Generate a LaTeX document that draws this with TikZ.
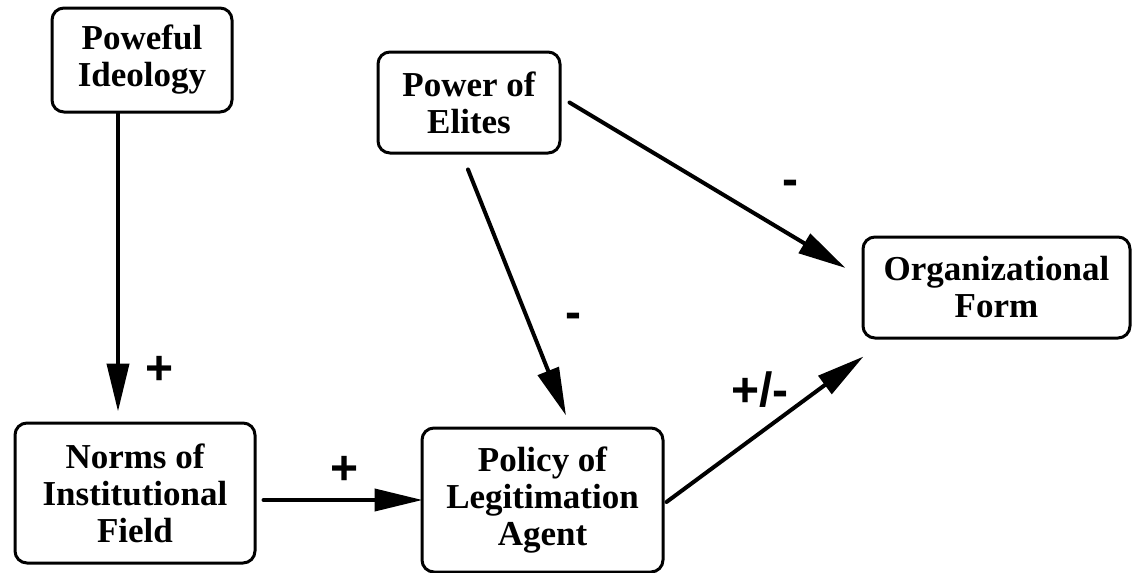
\documentclass[tikz,border=0pt]{standalone}
\usepackage{fontspec}
\setmainfont{Liberation Serif}
\newfontfamily\labelfont{Liberation Sans}
\usetikzlibrary{arrows.meta}
\begin{document}
\begin{tikzpicture}[x=0.5pt,y=-0.5pt,
  box/.style={draw, line width=1.5pt, rounded corners=6pt, align=center,
    font=\fontsize{17.5}{18.5}\selectfont\bfseries, inner sep=0pt},
  link/.style={line width=2pt, -{Triangle[length=24pt,width=11pt]}, line cap=round},
  sign/.style={font=\labelfont\fontsize{24}{26}\selectfont\bfseries, inner sep=0pt}]
\useasboundingbox (0,0) rectangle (1132,573);
\node[box, minimum width=90pt, minimum height=52pt] (pi) at (142,60) {Poweful\\Ideology};
\node[box, minimum width=91pt, minimum height=50.5pt] (pe) at (469,102.5) {Power of\\Elites};
\node[box, minimum width=120pt, minimum height=70pt] (nf) at (135,493) {Norms of\\Institutional\\Field};
\node[box, minimum width=120.5pt, minimum height=72pt] (pl) at (542.5,500) {Policy of\\Legitimation\\Agent};
\node[box, minimum width=133.5pt, minimum height=50.5pt] (of) at (996.5,287.5) {Organizational\\Form};
\draw[link] ([xshift=-12pt]pi.south) -- ([xshift=-8.5pt,yshift=5pt]nf.north);
\draw[link] ([xshift=3.5pt,yshift=-3.5pt]nf.east) -- ([xshift=1pt]pl.west);
\draw[link] ([xshift=-0.5pt,yshift=-7.5pt]pe.south) -- ([xshift=11.75pt,yshift=5.5pt]pl.north);
\draw[link] ([xshift=4pt]pe.east) -- ([xshift=-8pt,yshift=9.75pt]of.west);
\draw[link] ([xshift=1pt,yshift=-1pt]pl.east) -- ([xshift=1pt,yshift=-8.5pt]of.south west);
\node[sign] (s1) at (160,370) {+};
\node[sign] (s2) at (345,470) {+};
\node[sign] (s3) at (573,321) {-};
\node[sign] (s4) at (790,188) {-};
\node[sign] (s5) at (760,390) {+/-};
\end{tikzpicture}
\end{document}
